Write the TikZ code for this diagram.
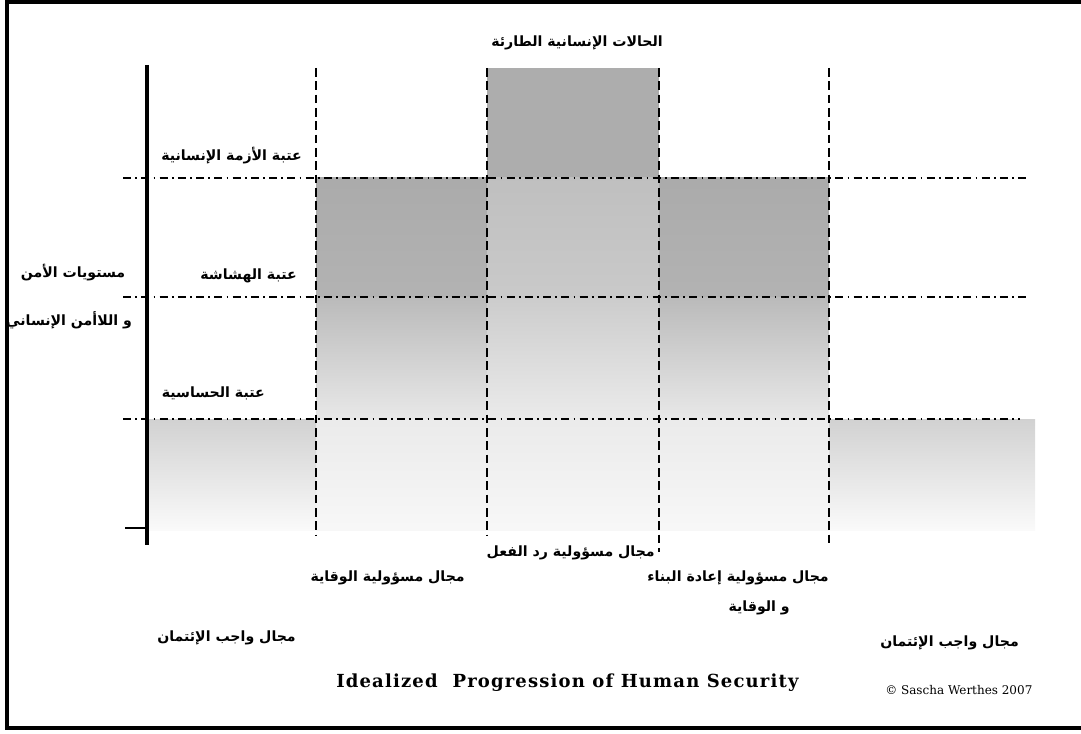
\documentclass[tikz,border=0pt]{standalone}
\usepackage{fontspec}
\setmainfont{DejaVu Serif}
\newfontfamily\titlefont[LetterSpace=6.5]{DejaVu Serif}
\newfontfamily\arabicfont[Script=Arabic]{DejaVu Sans}
\TeXXeTstate=1
\usetikzlibrary{positioning}
\newcommand{\artext}[1]{{\arabicfont\bfseries\beginR #1\endR}}

\begin{document}
\begin{tikzpicture}[x=0.75pt,y=-0.75pt,
    lvl/.style={line width=1.4pt, dash pattern=on 6pt off 3.2pt on 1.3pt off 3.2pt},
    zone/.style={line width=1.4pt, dash pattern=on 6.5pt off 3.5pt},
    arlbl/.style={font=\fontsize{10.6}{12}\selectfont, inner sep=0pt},
    en/.style={inner sep=0pt, anchor=west}]
  \useasboundingbox (0,0) rectangle (1081,734);
  % ---- frame ----
  \draw[line width=3pt] (1081,2.5) -- (7,2.5) -- (7,728) -- (1081,728);
  % ---- shaded columns ----
  \fill[black!32] (487,68) rectangle (659,178);
  \foreach \xa/\xb in {316/487, 659/829}{
    \shade[top color=black!33, bottom color=black!30] (\xa,178) rectangle (\xb,297);
    \shade[top color=black!27, bottom color=black!9] (\xa,297) rectangle (\xb,419);
  }
  \shade[top color=black!25, bottom color=black!21] (487,178) rectangle (659,297);
  \shade[top color=black!20, bottom color=black!8] (487,297) rectangle (659,419);
  \shade[top color=black!8, bottom color=black!3] (316,419) rectangle (829,530);
  \foreach \xa/\xb in {147/316, 829/1035}
    \shade[top color=black!18, bottom color=black!2] (\xa,419) rectangle (\xb,530);
  % ---- thresholds ----
  \draw[lvl] (123,178) -- (1030,178);
  \draw[lvl] (123,297) -- (1030,297);
  \draw[lvl] (123,419) -- (1020,419);
  % ---- zone borders ----
  \foreach \x/\yb in {316/535, 487/535, 659/552, 829/548}
    \draw[zone] (\x,68) -- (\x,\yb);
  % ---- axis ----
  \draw[line width=3pt] (147,65) -- (147,545);
  \draw[line width=1.5pt] (125,528) -- (147,528);
  % ---- labels ----
  \node[arlbl] (emerg) at (577,43) {\artext{الحالات الإنسانية الطارئة}};
  \node[arlbl, anchor=east] (crisis) at (302,156) {\artext{عتبة الأزمة الإنسانية}};
  \node[arlbl, anchor=east] (fragile) at (297,276) {\artext{عتبة الهشاشة}};
  \node[arlbl, anchor=east] (sensit) at (265,393) {\artext{عتبة الحساسية}};
  \node[arlbl] (levels) at (73,273) {\artext{مستويات الأمن}};
  \node[arlbl] (levels2) at (69,320) {\artext{و اللاأمن الإنساني}};
  \node[arlbl, anchor=east] (react) at (655,553) {\artext{مجال مسؤولية رد الفعل}};
  \node[arlbl, anchor=east] (prevent) at (465,578) {\artext{مجال مسؤولية الوقاية}};
  \node[arlbl, anchor=east] (rebuild) at (829,578) {\artext{مجال مسؤولية إعادة البناء}};
  \node[arlbl, anchor=east] (rebuild2) at (790,608) {\artext{و الوقاية}};
  \node[arlbl, anchor=east] (trustL) at (296,638) {\artext{مجال واجب الإئتمان}};
  \node[arlbl, anchor=east] (trustR) at (1019,643) {\artext{مجال واجب الإئتمان}};
  \node[en, font=\titlefont\bfseries\fontsize{13.5}{15}\selectfont] (title) at (336,683) {Idealized\ \ Progression of Human Security};
  \node[en, font=\fontsize{9}{10}\selectfont] (copy) at (885,690) {\textcopyright\ Sascha Werthes 2007};
\end{tikzpicture}
\end{document}
